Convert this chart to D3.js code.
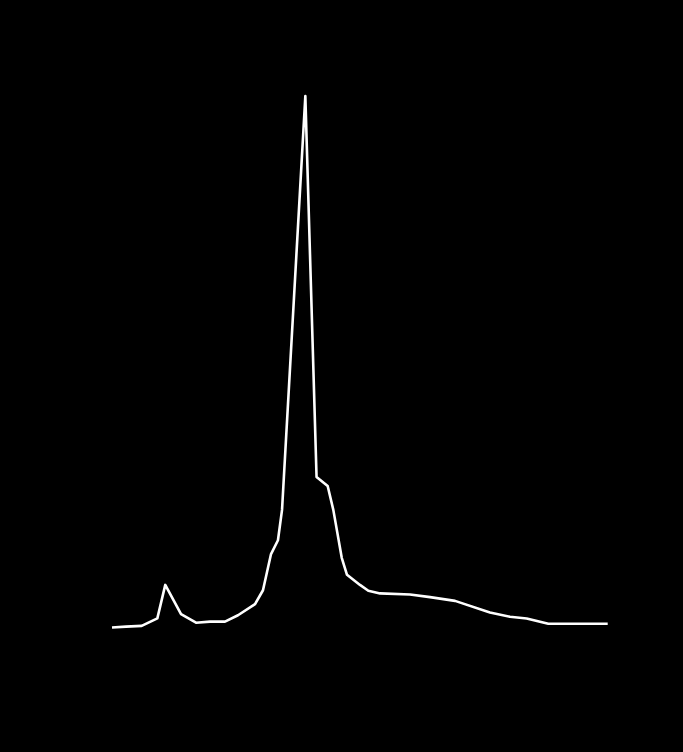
<!DOCTYPE html>
<html>
<head>
<meta charset="utf-8">
<script src="https://cdn.jsdelivr.net/npm/d3@7"></script>
<style>
html,body{margin:0;padding:0;background:#000;}
svg{display:block;}
</style>
</head>
<body>
<svg id="chart" width="683" height="752"></svg>
<script>
// Data (relative units)
const xValues = [0, 14.1, 29.9, 45.7, 53.7, 69.6, 84.7, 98.8, 113.9, 127.0, 144.2, 152.2, 160.3, 167.3, 171.4, 194.9, 206.2, 217.4, 223.1, 231.6, 236.9, 250.0, 258.4, 270.2, 300.4, 320.6, 345.8, 381.0, 401.2, 418.0, 439.8, 499.7];
const yValues = [0.1, 0.25, 0.4, 1.8, 8.1, 2.6, 1.0, 1.2, 1.2, 2.4, 4.5, 7.1, 13.9, 16.5, 22.2, 100, 28.4, 26.7, 22.2, 13.2, 10.0, 8.1, 7.0, 6.5, 6.3, 5.8, 5.1, 2.9, 2.1, 1.8, 0.8, 0.8];

const svg = d3.select("#chart");
svg.append("rect").attr("width", 683).attr("height", 752).attr("fill", "#000");

const x = d3.scaleLinear().domain([0, 500]).range([112, 608]);
const y = d3.scaleLinear().domain([0, 100]).range([628, 96]);

const data = xValues.map((v, i) => ({x: v, y: yValues[i]}));

const line = d3.line().x(d => x(d.x)).y(d => y(d.y));

svg.append("path")
  .datum(data)
  .attr("fill", "none")
  .attr("stroke", "#fff")
  .attr("stroke-width", 2.6)
  .attr("stroke-linejoin", "round")
  .attr("d", line);
</script>
</body>
</html>
